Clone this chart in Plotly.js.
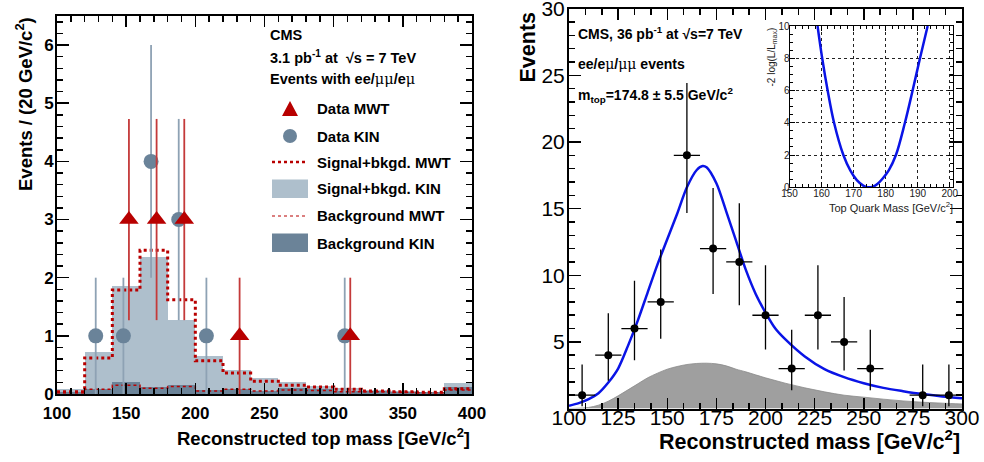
<!DOCTYPE html>
<html>
<head>
<meta charset="utf-8">
<script src="https://cdn.plot.ly/plotly-3.0.1.min.js"></script>
<style>html,body{margin:0;padding:0;background:#fff;}#chart{width:984px;height:462px;}</style>
</head>
<body>
<div id="chart"></div>
<script>
// ---------- Left panel: histogram (20 GeV bins) ----------
const binLow = [100,120,140,160,180,200,220,240,260,280,300,320,340,360,380];
const binWidth = 20;
const sigBkgKIN = [0.08,0.72,1.86,2.36,1.27,0.66,0.42,0.28,0.20,0.14,0.10,0.07,0.05,0.03,0.19];
const bkgKIN    = [0.04,0.08,0.21,0.12,0.15,0.07,0.08,0.06,0.11,0.08,0.06,0.05,0.04,0.03,0.12];
const sigBkgMWT = [0.04,0.62,1.79,2.47,1.62,0.57,0.36,0.22,0.15,0.12,0.08,0.05,0.04,0.03,0.09];
const bkgMWT    = [0.02,0.08,0.15,0.10,0.13,0.05,0.08,0.05,0.07,0.06,0.04,0.04,0.03,0.02,0.07];

const dataMWTx = [152,172,192,232,312];
const dataMWTy = [3,3,3,1,1];
const dataMWTerr = [1.73,1.73,1.73,1,1];
const dataKINx = [128,148,168,188,208,308];
const dataKINy = [1,1,4,3,1,1];
const dataKINerr = [1,1,2,1.73,1,1];

// ---------- Right panel: reconstructed mass ----------
const rCenters = [106.67,120,133.33,146.67,160,173.33,186.67,200,213.33,226.67,240,253.33,280,293.33];
const rCounts  = [1,4,6,8,19,12,11,7,3,7,5,3,1,1];
const rErrUp   = [2.30,3.15,3.58,3.94,5.43,4.55,4.41,3.76,2.91,3.76,3.37,2.91,2.30,2.30];
const rErrDown = [0.83,1.91,2.38,2.76,4.32,3.41,3.26,2.58,1.63,2.58,2.15,1.63,0.83,0.83];
const rHalfBin = 6.67;

const fitX = [100,105,110,115,120,125,130,135,140,145,150,155,160,165,168,170,175,180,185,190,195,200,205,210,220,230,240,250,260,270,280,290,300];
const fitY = [0.2,0.4,0.7,1.15,1.95,3.0,4.7,6.6,8.7,10.8,12.7,14.6,16.6,17.9,18.2,18.1,16.9,14.8,12.6,10.4,8.6,7.2,6.0,5.2,3.9,2.95,2.35,1.9,1.55,1.3,1.08,0.9,0.77];

const bgX = [100,105,110,115,120,125,130,135,140,145,150,155,160,165,170,175,180,185,190,200,210,220,230,240,250,260,270,280,290,300];
const bgY = [0.0,0.02,0.08,0.25,0.55,0.95,1.4,1.85,2.3,2.65,2.95,3.15,3.3,3.38,3.4,3.35,3.2,2.95,2.75,2.3,1.9,1.55,1.25,1.0,0.85,0.7,0.57,0.47,0.4,0.34];

// ---------- Inset: likelihood scan ----------
const llX = [158.75,160.2,161.9,163.9,166.8,169,171,173,174,174.8,176,177.5,179,181,183.2,186,188.4,190.7,193.1];
const llY = [10,8,6,4,2,1.03,0.44,0.10,0.02,0,0.04,0.22,0.53,1.07,2,4,6,8,10];

const FONT = 'Liberation Sans, Arial, Helvetica, sans-serif';
const W = 984, H = 462;
const px = v => v / W;
const py = v => 1 - v / H;

const binCenters = binLow.map(b => b + binWidth / 2);
const edges = binLow.concat([binLow[binLow.length - 1] + binWidth]);
const stepY = arr => arr.concat([arr[arr.length - 1]]);

const cLight = '#aebfcc', cDark = '#6b8398', cRed = '#b80000';

const traces = [
  {type:'bar', x:binCenters, y:sigBkgKIN, width:binWidth, marker:{color:cLight, line:{width:0}}, xaxis:'x', yaxis:'y', hoverinfo:'skip'},
  {type:'bar', x:binCenters, y:bkgKIN, width:binWidth, marker:{color:cDark, line:{width:0}}, xaxis:'x', yaxis:'y', hoverinfo:'skip'},
  {type:'scatter', mode:'lines', x:edges, y:stepY(bkgMWT), line:{shape:'hv', color:cRed, width:1.5, dash:'dot'}, xaxis:'x', yaxis:'y'},
  {type:'scatter', mode:'lines', x:edges, y:stepY(sigBkgMWT), line:{shape:'hv', color:cRed, width:3, dash:'dot'}, xaxis:'x', yaxis:'y'},
  {type:'scatter', mode:'markers', x:dataKINx, y:dataKINy,
   error_y:{type:'data', array:dataKINerr, color:'#8ea2b4', thickness:1.8, width:0},
   marker:{symbol:'circle', size:15, color:'#6a8399'}, xaxis:'x', yaxis:'y'},
  {type:'scatter', mode:'markers', x:dataMWTx, y:dataMWTy,
   error_y:{type:'data', array:dataMWTerr, color:'#c43a3a', thickness:1.8, width:0},
   marker:{symbol:'triangle-up', size:17, color:cRed}, xaxis:'x', yaxis:'y'},

  {type:'scatter', mode:'lines', x:bgX, y:bgY, fill:'tozeroy', line:{color:'#8a8a8a', width:0.8, shape:'spline'},
   fillcolor:'#a6a6a6', fillpattern:{shape:'-', bgcolor:'#aaaaaa', fgcolor:'#8c8c8c', size:2, solidity:0.4},
   xaxis:'x2', yaxis:'y2'},
  {type:'scatter', mode:'lines', x:fitX, y:fitY, line:{color:'#0a14e6', width:2.5, shape:'spline', smoothing:0.8}, xaxis:'x2', yaxis:'y2'},
  {type:'scatter', mode:'markers', x:rCenters, y:rCounts,
   error_y:{type:'data', symmetric:false, array:rErrUp, arrayminus:rErrDown, color:'#000', thickness:1.3, width:0},
   error_x:{type:'constant', value:rHalfBin, color:'#000', thickness:1.3, width:0},
   marker:{symbol:'circle', size:8, color:'#000'}, xaxis:'x2', yaxis:'y2'},

  {type:'scatter', mode:'lines', x:llX, y:llY, line:{color:'#0a14e6', width:2.5, shape:'spline'}, xaxis:'x3', yaxis:'y3', cliponaxis:true}
];

const boldTick = {family:FONT, size:17, color:'#000', weight:'bold'};
const regTick = {family:FONT, size:21, color:'#000'};

const layout = {
  width:W, height:H, margin:{l:0,r:0,t:0,b:0}, showlegend:false,
  paper_bgcolor:'#fff', plot_bgcolor:'rgba(0,0,0,0)', barmode:'overlay', bargap:0,
  xaxis:{domain:[px(57),px(472)], range:[100,400], anchor:'y', showline:true, linecolor:'#000', linewidth:2, mirror:'allticks',
    ticks:'inside', ticklen:11, tickwidth:1.5, tickcolor:'#000', dtick:50, tick0:100, showgrid:false, zeroline:false,
    minor:{dtick:10, ticklen:6, tickwidth:1.5, tickcolor:'#000', ticks:'inside'}, tickfont:boldTick, ticklabelstandoff:3},
  yaxis:{domain:[py(394),py(16)], range:[0,6.5], anchor:'x', showline:true, linecolor:'#000', linewidth:2, mirror:'allticks',
    ticks:'inside', ticklen:12, tickwidth:1.5, tickcolor:'#000', dtick:1, tick0:0, showgrid:false, zeroline:false,
    minor:{dtick:0.2, ticklen:6, tickwidth:1.5, tickcolor:'#000', ticks:'inside'}, tickfont:boldTick, ticklabelstandoff:-2},
  xaxis2:{domain:[px(569),px(962)], range:[100,300], anchor:'y2', showline:true, linecolor:'#000', linewidth:2, mirror:'allticks',
    ticks:'inside', ticklen:11, tickwidth:1.5, tickcolor:'#000', dtick:25, tick0:100, showgrid:false, zeroline:false,
    minor:{dtick:25/3, ticklen:6, tickwidth:1.5, tickcolor:'#000', ticks:'inside'}, tickfont:regTick, ticklabelstandoff:-11},
  yaxis2:{domain:[py(408.5),py(8.5)], range:[0,30.02], anchor:'x2', showline:true, linecolor:'#000', linewidth:2, mirror:'allticks',
    ticks:'inside', ticklen:12, tickwidth:1.5, tickcolor:'#000', showgrid:false, zeroline:false,
    tickvals:[5,10,15,20,25,30], ticklabeloverflow:'allow',
    minor:{dtick:1, ticklen:6, tickwidth:1.5, tickcolor:'#000', ticks:'inside'}, tickfont:regTick, ticklabelstandoff:-2},
  xaxis3:{domain:[px(789.5),px(953)], range:[150,201], anchor:'y3', showline:true, linecolor:'#000', linewidth:1, mirror:'allticks',
    ticks:'inside', ticklen:5, tickwidth:1, tickcolor:'#000', dtick:10, tick0:150, showgrid:true, gridcolor:'#222', griddash:'dot', gridwidth:1,
    zeroline:false, minor:{dtick:2, ticklen:3, tickwidth:1, tickcolor:'#000', ticks:'inside', showgrid:false},
    tickfont:{family:FONT, size:10, color:'#222'}, ticklabelstandoff:-3},
  yaxis3:{domain:[py(187.3),py(26)], range:[0,10], anchor:'x3', showline:true, linecolor:'#000', linewidth:1, mirror:'allticks',
    ticks:'inside', ticklen:5, tickwidth:1, tickcolor:'#000', dtick:2, tick0:0, showgrid:true, gridcolor:'#222', griddash:'dot', gridwidth:1,
    zeroline:false, minor:{dtick:0.5, ticklen:3, tickwidth:1, tickcolor:'#000', ticks:'inside', showgrid:false},
    tickfont:{family:FONT, size:10, color:'#222'}, ticklabelstandoff:-3},
  shapes:[
    {type:'rect', xref:'paper', yref:'paper', x0:px(789.5), x1:px(953), y0:py(187.3), y1:py(26), fillcolor:'#fff', line:{width:0}, layer:'below'},
    {type:'path', xref:'paper', yref:'paper', path:`M ${px(282)} ${py(116)} L ${px(298)} ${py(116)} L ${px(290)} ${py(101)} Z`, fillcolor:cRed, line:{width:0}},
    {type:'circle', xref:'paper', yref:'paper', x0:px(283), x1:px(297), y0:py(143), y1:py(129), fillcolor:'#6a8399', line:{width:0}},
    {type:'line', xref:'paper', yref:'paper', x0:px(272), x1:px(307), y0:py(162), y1:py(162), line:{color:cRed, width:2.5, dash:'dot'}},
    {type:'rect', xref:'paper', yref:'paper', x0:px(272), x1:px(308), y0:py(198), y1:py(179.5), fillcolor:cLight, line:{width:0}},
    {type:'line', xref:'paper', yref:'paper', x0:px(272), x1:px(307), y0:py(216), y1:py(216), line:{color:cRed, width:1.2, dash:'dot'}},
    {type:'rect', xref:'paper', yref:'paper', x0:px(272), x1:px(308), y0:py(252), y1:py(233.5), fillcolor:cDark, line:{width:0}}
  ],
  annotations:[]
};

function note(text, x, y, size, opts) {
  layout.annotations.push(Object.assign({xref:'paper', yref:'paper', x:px(x), y:py(y), text:text, showarrow:false,
    xanchor:'left', yanchor:'middle', font:{family:FONT, size:size, color:'#000'}}, opts || {}));
}
const mu = '<span style="font-family:DejaVu Serif, serif;font-weight:normal">μ</span>';
// left panel texts
note('<b>CMS</b>', 268, 35, 14.5);
note('<b>3.1 pb<sup>-1</sup> at  √s = 7 TeV</b>', 268, 57, 14.5);
note('<b>Events with ee/</b>' + mu + mu + '<b>/e</b>' + mu, 268, 79, 14.5);
note('<b>Data MWT</b>', 315, 108.5, 15);
note('<b>Data KIN</b>', 315, 136, 15);
note('<b>Signal+bkgd. MWT</b>', 315, 162, 15);
note('<b>Signal+bkgd. KIN</b>', 315, 188.5, 15);
note('<b>Background MWT</b>', 315, 216, 15);
note('<b>Background KIN</b>', 315, 243, 15);
// left axis titles
note('<b>Reconstructed top mass [GeV/c<sup>2</sup>]</b>', 472, 437, 18.5, {xanchor:'right'});
note('<b>Events / (20 GeV/c<sup>2</sup>)</b>', 24, 15, 18.5, {textangle:-90, xanchor:'center', yanchor:'top'});
// right panel texts
note('<b>CMS, 36 pb<sup>-1</sup> at √s=7 TeV</b>', 576, 33, 14);
note('<b>ee/e</b>' + mu + '<b>/</b>' + mu + mu + '<b> events</b>', 576, 64, 14);
note('<b>m<sub>top</sub>=174.8 ± 5.5 GeV/c<sup>2</sup></b>', 576, 95, 14);
note('<b>Reconstructed mass [GeV/c<sup>2</sup>]</b>', 962, 440, 21.5, {xanchor:'right'});
note('<b>Events</b>', 527, 10, 21.5, {textangle:-90, xanchor:'center', yanchor:'top'});
// inset titles
note('Top Quark Mass [GeV/c<sup>2</sup>]', 955, 207, 11, {xanchor:'right', font:{family:FONT, size:11, color:'#222'}});
note('-2 log(L/L<sub>max</sub>)', 772, 26, 10, {textangle:-90, xanchor:'center', yanchor:'top', font:{family:FONT, size:10, color:'#222'}});

Plotly.newPlot('chart', traces, layout, {staticPlot:true, displayModeBar:false});
</script>
</body>
</html>
